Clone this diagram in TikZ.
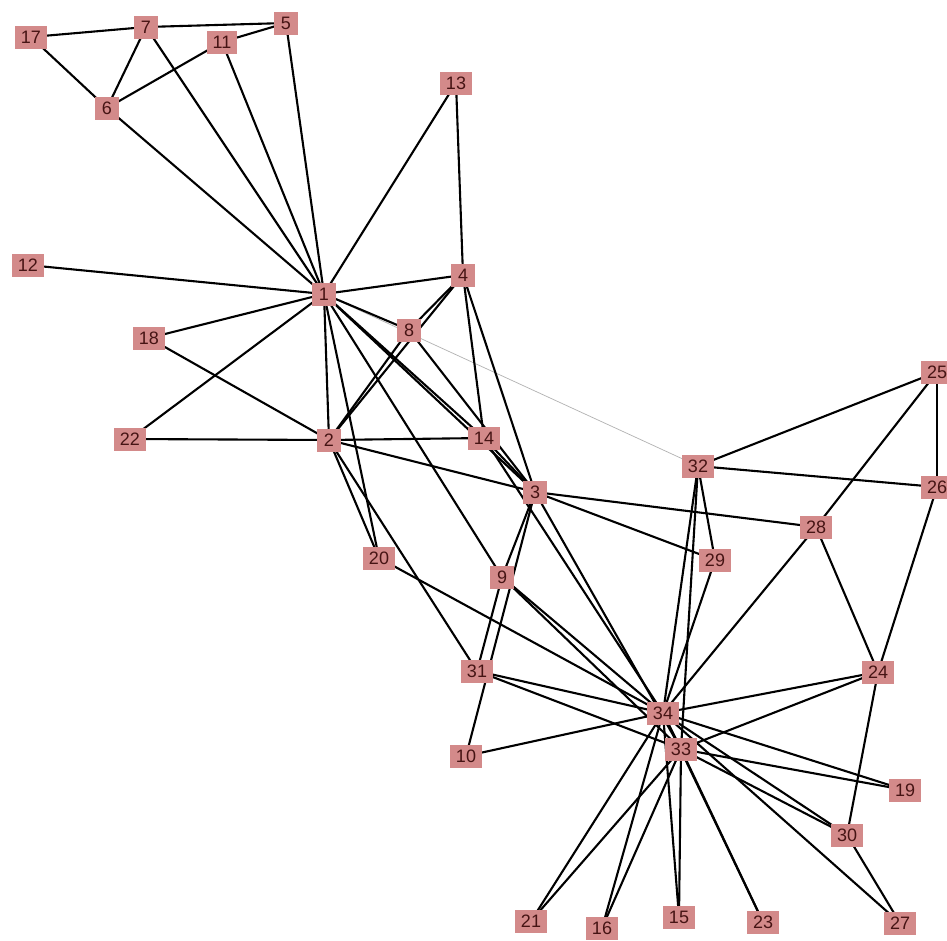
\documentclass[tikz,border=0pt]{standalone}
\usepackage{fontspec}
\setmainfont{Liberation Sans}
\definecolor{nodefill}{RGB}{211,138,138}
\definecolor{nodetext}{RGB}{70,20,20}
\begin{document}
\begin{tikzpicture}[x=1pt,y=-1pt,
  vtx/.style={rectangle,fill=nodefill,text=nodetext,minimum height=23pt,minimum width=24pt,inner xsep=6pt,inner ysep=0pt,font=\fontsize{18}{18}\selectfont},
  edge/.style={line width=2.1pt,black},
  faint/.style={line width=0.7pt,black!30}]
\useasboundingbox (0,0) rectangle (947,940);
\fill[white] (0,0) rectangle (947,940);
\foreach \n/\x/\y in {1/324/294,2/329/440,3/535/492,4/463/275,5/286/23,6/107/108,7/146/27,8/409/330,9/502/577,10/466/756,11/222/42,12/28/265,13/456/83,14/484/438,15/679/917,16/602/928,17/31/37,18/149/338,19/905/790,20/379/558,21/531/921,22/130/439,23/763/922,24/878/672,25/937/372,26/937/487,27/900/923,28/816/527,29/715/560,30/847/835,31/477/671,32/698/466,33/681/749,34/663/713}
  \coordinate (c\n) at (\x,\y);
\draw[faint] (c1) -- (c32);
\foreach \a/\b in {1/2,1/3,1/4,1/5,1/6,1/7,1/8,1/9,1/11,1/12,1/13,1/14,1/18,1/20,1/22,
  2/3,2/4,2/8,2/14,2/18,2/20,2/22,2/31,
  3/4,3/8,3/9,3/10,3/14,3/28,3/29,3/33,
  4/8,4/13,4/14,5/7,5/11,6/7,6/11,6/17,7/17,
  9/31,9/33,9/34,10/34,14/34,15/33,15/34,16/33,16/34,19/33,19/34,20/34,21/33,21/34,23/33,23/34,
  24/26,24/28,24/30,24/33,24/34,25/26,25/28,25/32,26/32,27/30,27/34,28/34,29/32,29/34,
  30/33,30/34,31/33,31/34,32/33,32/34,33/34}
  \draw[edge] (c\a) -- (c\b);
\foreach \n in {1,...,34}
  \node[vtx] (n\n) at (c\n) {\n};
\end{tikzpicture}
\end{document}
